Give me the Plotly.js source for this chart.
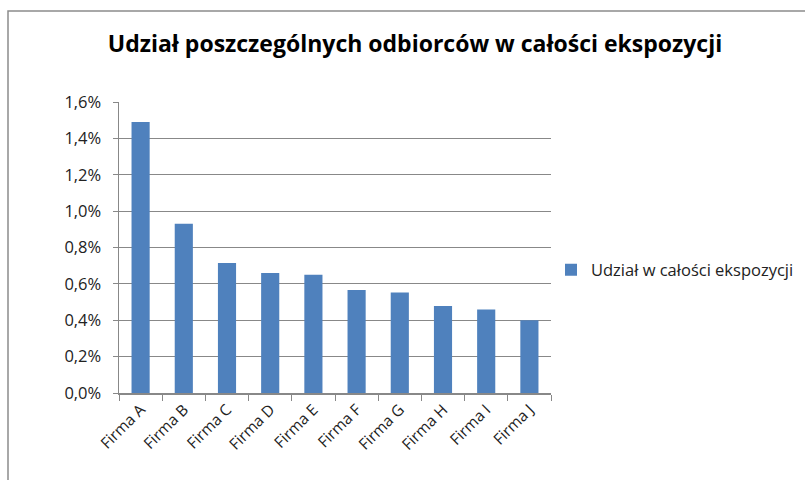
<!DOCTYPE html>
<html><head><meta charset="utf-8">
<script src="https://cdn.plot.ly/plotly-3.0.1.min.js"></script>
<style>html,body{margin:0;padding:0;background:#fff}#c{width:805px;height:480px}</style>
</head><body><div id="c"></div>
<script>
const categories = ["Firma A","Firma B","Firma C","Firma D","Firma E","Firma F","Firma G","Firma H","Firma I","Firma J"];
const shares = [0.0149,0.0093,0.00715,0.0066,0.0065,0.00567,0.00552,0.00479,0.00459,0.0040];
const seriesName = "Udział w całości ekspozycji";
const chartTitle = "Udział poszczególnych odbiorców w całości ekspozycji";
const yTicks = [0,0.002,0.004,0.006,0.008,0.010,0.012,0.014,0.016];

const L=119,R=254,T=102,B=87,W=805,H=480;
const pw=W-L-R, ph=H-T-B;
const px=v=>(v-L)/pw, py=v=>(H-B-v)/ph;
const fnt='Open Sans, sans-serif';
Plotly.newPlot('c',[{
  type:'bar', x:categories, y:shares, name:seriesName,
  marker:{color:'#4f81bd'}, showlegend:true
}],{
  width:W,height:H,margin:{l:L,r:R,t:T,b:B,autoexpand:false},
  paper_bgcolor:'#fff',plot_bgcolor:'#fff',
  separators:',.',
  bargap:0.58,
  font:{family:fnt,color:'#222',size:14},
  title:{text:'<b>'+chartTitle+'</b>',xref:'container',x:415/W,xanchor:'center',yref:'container',y:1-44/H,yanchor:'middle',font:{size:23,color:'#000',family:fnt}},
  xaxis:{type:'category',tickangle:-45,tickson:'boundaries',ticks:'outside',ticklen:6,tickcolor:'#888',
    showline:true,linecolor:'#888',linewidth:1.5,showgrid:false,tickfont:{size:15.5},automargin:false},
  yaxis:{range:[0,0.016],tickvals:yTicks,tickformat:'.1%',ticks:'outside',ticklen:5,tickcolor:'#888',
    ticklabelstandoff:8,
    showline:true,linecolor:'#888',linewidth:1.5,showgrid:true,gridcolor:'#888',gridwidth:1,
    zeroline:false,tickfont:{size:16.5},automargin:false},
  legend:{x:px(551),xanchor:'left',y:py(270),yanchor:'middle',font:{size:16.5},itemwidth:30,bgcolor:'rgba(0,0,0,0)'},
  shapes:[{type:'rect',xref:'paper',yref:'paper',x0:px(8),x1:px(812),y0:py(490),y1:py(11),
    line:{color:'#8c8c8c',width:1.5},fillcolor:'rgba(0,0,0,0)',layer:'above'}]
},{displayModeBar:false,staticPlot:true});
</script></body></html>
